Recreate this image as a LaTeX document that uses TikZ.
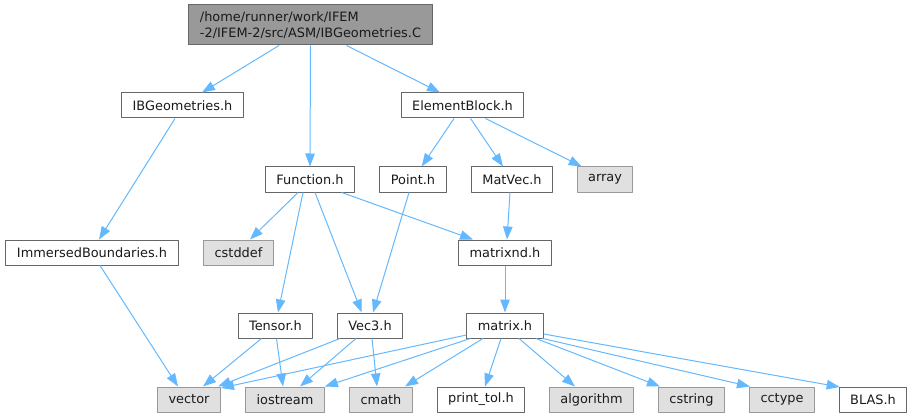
\documentclass[tikz,border=0pt]{standalone}
\usepackage{fontspec}
\setmainfont{DejaVu Sans}
\usetikzlibrary{arrows.meta}
\definecolor{edgeblue}{HTML}{63B8FF}
\definecolor{hdrline}{HTML}{666666}
\definecolor{sysline}{HTML}{999999}
\definecolor{sysfill}{HTML}{E0E0E0}
\definecolor{mainfill}{HTML}{999999}
\definecolor{txt}{HTML}{1A1A1A}
\begin{document}
\begin{tikzpicture}[x=1pt,y=-1pt,line join=round,>={Triangle[length=13pt,width=9.5pt]},
            hdr/.style={draw=hdrline,fill=white,line width=1pt,inner xsep=11pt,inner ysep=0pt,
                minimum height=25pt,text=txt,font=\fontsize{12.9}{16}\selectfont},
            sys/.style={hdr,draw=sysline,fill=sysfill},
            mainfile/.style={hdr,fill=mainfill,align=left,minimum height=40pt},
            dep/.style={->,draw=edgeblue,line width=1pt}]
            \useasboundingbox (0,0) rectangle (913,417);
            % files
            \node[mainfile] (root) at (310.5,25) {/home/runner/work/IFEM\\-2/IFEM-2/src/ASM/IBGeometries.C};
            \node[hdr] (ibgeo) at (182.5,105.5) {IBGeometries.h};
            \node[hdr] (elemblock) at (462.5,105.5) {ElementBlock.h};
            \node[hdr] (func) at (310,179.5) {Function.h};
            \node[hdr] (point) at (413,179.5) {Point.h};
            \node[hdr] (matvec) at (512,179.5) {MatVec.h};
            \node[sys] (array) at (605,179.5) {array};
            \node[hdr] (immersed) at (92,252.5) {ImmersedBoundaries.h};
            \node[sys] (cstddef) at (238.5,252.5) {cstddef};
            \node[hdr] (matrixnd) at (505,252.5) {matrixnd.h};
            \node[hdr] (tensor) at (275.5,325.5) {Tensor.h};
            \node[hdr] (vecthree) at (370,325.5) {Vec3.h};
            \node[hdr] (matrix) at (505,325.5) {matrix.h};
            \foreach \n/\x/\t/\s in {vector/189/vector/sys,iostream/285/iostream/sys,cmath/381/cmath/sys,
                printtol/481/print\_tol.h/hdr,algorithm/591.5/algorithm/sys,cstring/691.5/cstring/sys,
                cctype/782/cctype/sys,blas/873/BLAS.h/hdr}{
                \node[\s] (\n) at (\x,399.5) {\t};
            }
            % includes
            \draw[dep] ([xshift=-31.5]root.south) -- ([xshift=19.5]ibgeo.north);
            \draw[dep] (root.south) -- (func.north);
            \draw[dep] ([xshift=36]root.south) -- ([xshift=-22.5]elemblock.north);
            \draw[dep] ([xshift=-7.5]ibgeo.south) -- ([xshift=7]immersed.north);
            \draw[dep] ([xshift=8]immersed.south) -- ([xshift=-11]vector.north);
            \draw[dep] ([xshift=-8.5]elemblock.south) -- ([xshift=8.7]point.north);
            \draw[dep] ([xshift=8]elemblock.south) -- ([xshift=-9]matvec.north);
            \draw[dep] ([xshift=23]elemblock.south) -- ([xshift=-23.3]array.north);
            \draw[dep] ([xshift=-12]func.south) -- ([xshift=11.5]cstddef.north);
            \draw[dep] ([xshift=-7]func.south) -- ([xshift=2.5]tensor.north);
            \draw[dep] ([xshift=5]func.south) -- ([xshift=-8.3]vecthree.north);
            \draw[dep] ([xshift=31.7]func.south) -- ([xshift=-32]matrixnd.north);
            \draw[dep] ([xshift=-4]point.south) -- ([xshift=3]vecthree.north);
            \draw[dep] ([xshift=-2]matvec.south) -- ([xshift=2]matrixnd.north);
            \draw[dep] (matrixnd.south) -- (matrix.north);
            \draw[dep] ([xshift=-14]tensor.south) -- ([xshift=14]vector.north);
            \draw[dep] ([xshift=1]tensor.south) -- ([xshift=-2]iostream.north);
            \draw[dep] ([xshift=-30]vecthree.south) -- ([xshift=29]vector.north);
            \draw[dep] ([xshift=-14]vecthree.south) -- ([xshift=15]iostream.north);
            \draw[dep] ([xshift=2]vecthree.south) -- ([xshift=-4]cmath.north);
            \draw[dep] ([yshift=-9.5]matrix.west) -- ([yshift=-1.5]vector.north east);
            \draw[dep] ([xshift=4]matrix.south west) -- (iostream.north east);
            \draw[dep] ([xshift=-22]matrix.south) -- ([xshift=24]cmath.north);
            \draw[dep] ([xshift=-4]matrix.south) -- ([xshift=4]printtol.north);
            \draw[dep] ([xshift=14]matrix.south) -- ([xshift=-16.5]algorithm.north);
            \draw[dep] ([xshift=31]matrix.south) -- ([xshift=-31.5]cstring.north);
            \draw[dep] ([xshift=-1]matrix.south east) -- ([xshift=1]cctype.north west);
            \draw[dep] ([yshift=-8.5]matrix.east) -- ([xshift=1,yshift=-0.5]blas.north west);
\end{tikzpicture}
\end{document}
